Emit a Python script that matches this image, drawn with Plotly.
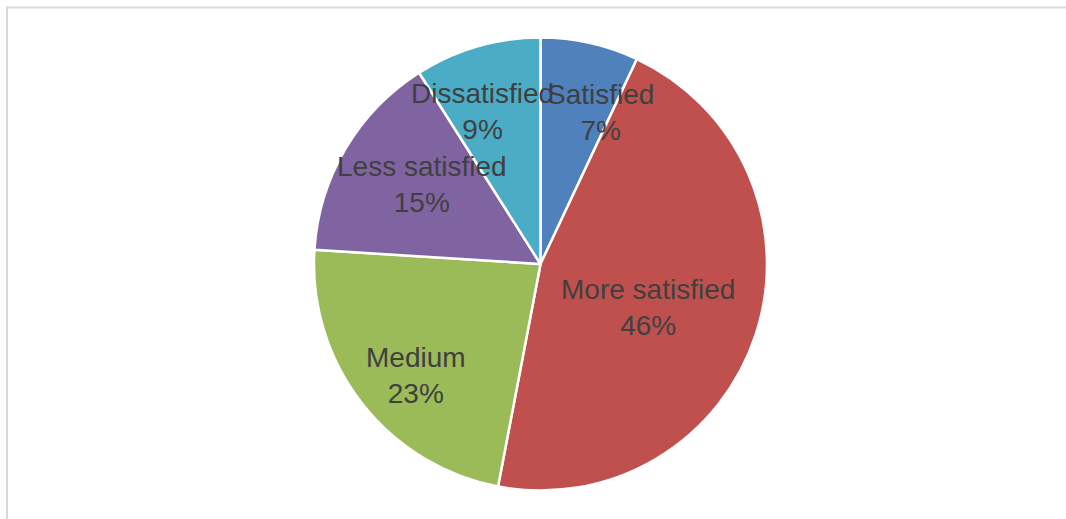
import math
import plotly.graph_objects as go

# ---- data ----
labels = ["Satisfied", "More satisfied", "Medium", "Less satisfied", "Dissatisfied"]
values = [7, 46, 23, 15, 9]
colors = ["#4F81BD", "#C0504D", "#9BBB59", "#8064A2", "#4BACC6"]

# ---- layout settings ----
W, H = 1066, 519
CX, CY, R = 540.5, 264.0, 226.5
# label placement tweaks (radial fraction, angular offset in degrees)
label_rfrac = [0.72, 0.51, 0.74, 0.63, 0.72]
label_dtheta = [8.8, 4.0, -4.0, 3.3, -4.8]
FONT = "Liberation Sans, Arial, sans-serif"
FSIZE = 28

fig = go.Figure(go.Pie(
    labels=labels,
    values=values,
    sort=False,
    direction="clockwise",
    rotation=0,
    marker=dict(colors=colors, line=dict(color="white", width=2.5)),
    textinfo="none",
    hoverinfo="label+percent",
    showlegend=False,
    domain=dict(x=[(CX - R) / W, (CX + R) / W],
                y=[1 - (CY + R) / H, 1 - (CY - R) / H]),
))

total = sum(values)
annotations = []
cum = 0
for lab, v, rf, dt in zip(labels, values, label_rfrac, label_dtheta):
    mid = (cum + v / 2) / total * 360 + dt
    cum += v
    px = CX + rf * R * math.sin(math.radians(mid))
    py = CY - rf * R * math.cos(math.radians(mid))
    pct = round(v / total * 100)
    annotations.append(dict(
        x=px / W, y=1 - py / H, xref="paper", yref="paper",
        text=f"{lab}<br>{pct}%", showarrow=False,
        xanchor="center", yanchor="middle",
        font=dict(family=FONT, size=FSIZE, color="#404040"),
    ))

fig.update_layout(
    width=W, height=H,
    margin=dict(l=0, r=0, t=0, b=0),
    paper_bgcolor="white",
    plot_bgcolor="white",
    annotations=annotations,
    shapes=[dict(type="rect", xref="paper", yref="paper",
                 x0=7 / W, x1=1.05, y0=-0.05, y1=1 - 7.5 / H,
                 line=dict(color="#D9D9D9", width=2), layer="below")],
)

fig.write_html("out.html")
